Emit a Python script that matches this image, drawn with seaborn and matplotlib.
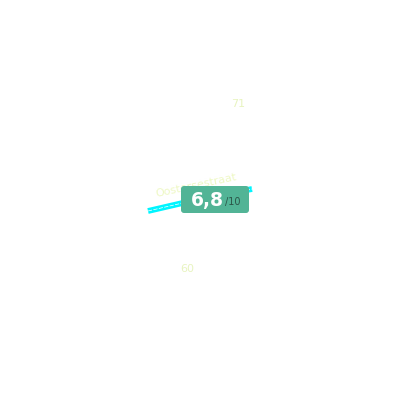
import matplotlib
matplotlib.use("Agg")
import matplotlib.pyplot as plt
from matplotlib.patches import FancyBboxPatch
import seaborn as sns
import pandas as pd

# straat (kaartcoordinaten in pixels)
straat_x = [148, 200, 252]
straat_y = [211, 199, 189]
straat_naam = "Oostersestraat"

# huisnummers
nummers = ["71", "60"]
nummer_x = [238, 187]
nummer_y = [104, 269]

# score
score = "6,8"
schaal = "/10"

sns.set_style("white")

fig = plt.figure(figsize=(4, 4), dpi=100)
ax = fig.add_axes([0, 0, 1, 1])
ax.set_xlim(0, 400)
ax.set_ylim(400, 0)
ax.axis("off")

df = pd.DataFrame({"x": straat_x, "y": straat_y})
sns.lineplot(data=df, x="x", y="y", sort=False, color="#00f5ff",
             linewidth=4.2, ax=ax, solid_capstyle="butt")
sns.lineplot(data=df, x="x", y="y", sort=False, color="white",
             linewidth=0.5, linestyle=(0, (6, 2)), ax=ax)

ax.text(196, 185, straat_naam, color="#eef8c4", fontsize=8,
        rotation=12, ha="center", va="center")

for n, x, y in zip(nummers, nummer_x, nummer_y):
    ax.text(x, y, n, color="#e8f4c0", fontsize=8, ha="center", va="center")

badge = FancyBboxPatch((181, 186), 68, 27,
                       boxstyle="round,pad=0,rounding_size=3",
                       facecolor="#52b496", edgecolor="none", zorder=5)
ax.add_patch(badge)
ax.text(207, 200.5, score, color="white", fontsize=13.5, fontweight="bold",
        ha="center", va="center", zorder=6)
ax.text(233, 202, schaal, color="#2b5548", fontsize=7,
        ha="center", va="center", zorder=6)

fig.savefig("out.png", dpi=100)
